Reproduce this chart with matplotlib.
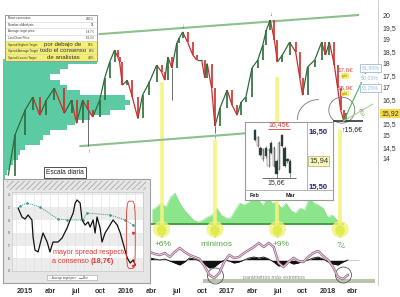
import numpy as np
import pandas as pd
import matplotlib
matplotlib.use('Agg')
import matplotlib.pyplot as plt
import matplotlib.dates as mdates
from matplotlib.patches import Rectangle, FancyBboxPatch, Ellipse, Arc
from matplotlib.collections import LineCollection

plt.rcParams['font.family'] = ['Liberation Sans', 'DejaVu Sans']
plt.rcParams['hatch.linewidth'] = 0.6

# ---------------- data ----------------
price_dates = ['2014-11-01', '2014-11-25', '2015-01-01', '2015-01-29', '2015-02-23', '2015-03-19',
               '2015-04-17', '2015-05-23', '2015-06-18', '2015-07-06', '2015-07-28', '2015-08-18',
               '2015-09-03', '2015-09-28', '2015-10-16', '2015-11-03', '2015-11-21', '2015-12-02',
               '2015-12-09', '2015-12-19', '2016-01-06', '2016-01-24', '2016-02-13', '2016-03-01',
               '2016-03-26', '2016-04-21', '2016-05-09', '2016-05-20', '2016-06-01', '2016-06-15',
               '2016-07-03', '2016-07-12', '2016-07-24', '2016-08-11', '2016-08-30', '2016-09-13',
               '2016-10-01', '2016-10-12', '2016-10-21', '2016-11-06', '2016-11-18', '2016-12-06',
               '2017-01-01', '2017-01-19', '2017-02-06', '2017-02-21', '2017-03-10', '2017-04-01',
               '2017-04-22', '2017-05-10', '2017-05-23', '2017-06-06', '2017-06-21', '2017-07-02',
               '2017-07-20', '2017-08-15', '2017-09-06', '2017-09-21', '2017-10-01', '2017-10-19',
               '2017-11-14', '2017-12-09', '2017-12-23', '2018-01-06', '2018-01-24', '2018-02-05',
               '2018-02-16', '2018-02-27', '2018-03-09']
closes = [13.3, 15.0, 16.05, 16.6, 15.84, 16.47, 16.97, 15.92, 16.47, 15.5, 16.47, 16.05,
          15.76, 16.47, 17.4, 18.07, 18.57, 18.28, 18.07, 17.1, 17.3, 16.6, 15.7, 16.68,
          17.23, 17.94, 17.65, 17.31, 18.28, 17.82, 18.87, 19.08, 19.33, 18.9, 18.36, 18.15,
          18.15, 17.4, 18.0, 16.97, 15.38, 16.13, 16.89, 16.26, 15.84, 16.39, 16.6, 17.82,
          18.15, 18.78, 19.41, 19.83, 18.99, 18.07, 18.36, 18.9, 18.49, 17.4, 16.68, 17.86,
          18.15, 18.9, 18.36, 18.9, 17.94, 16.97, 16.05, 15.6, 15.92]
spike_dates = ['2015-08-18', '2016-06-15', '2016-11-18']
spike_lows = [14.55, 16.47, 15.1]
last_price = 15.92

upper_channel = (['2015-09-28', '2018-04-20'], [19.24, 20.04])
lower_channel = (['2015-07-20', '2017-03-12'], [14.54, 15.08])

profile_levels = [18.07, 17.86, 17.65, 17.44, 17.23, 17.02, 16.81, 16.60, 16.39, 16.18, 15.97, 15.76,
                  15.55, 15.34, 15.13, 14.92, 14.71, 14.50, 14.29, 14.08, 13.87, 13.66, 13.45, 13.24]
profile_volume = [94, 65, 57, 47, 57, 64, 77, 122, 127, 122, 107, 87, 72, 64, 47, 40, 37, 22, 17, 15,
                  10, 7, 4, 2]

band_dates = ['2016-05-09', '2016-11-18', '2017-07-02', '2018-02-14']
band_tops = [17.23, 14.8, 17.44, 15.2]
band_labels = ['+6%', 'mínimos', '+9%', '?¿']

volume = [14, 17, 21, 17, 27, 31, 21, 14, 9, 4, 2, 4, 7, 9, 16, 9, 6, 6, 14, 21, 19, 22, 27, 24,
          19, 27, 21, 22, 16, 21, 14, 11, 16, 14, 26, 21, 19, 16, 7, 9, 4, 2]
osc_mauve = [8, 6, 5, 7, 3, 8, 12, 8, 5, 3, 1, -6, -15, -18, -13, -2, 5, 2, 3, 7, 10, 13, 17, 13,
             17, 13, -3, -7, -2, 2, -1, -2, 3, 7, 9, 4, 0, -7, -17, -19, -15]
osc_black = [2, 1, 0, 1, -1, -3, -5, -2, 2, 1, -1, -4, -8, -7, -3, 0, -1, -3, -2, 0, 2, 3, 2, 3,
             1, -2, -6, -5, -2, -4, -3, -1, 0, 2, 3, 1, -2, -4, -5, -2, 0]

# consensus inset (left)
cons_dates = ['2014-12-07', '2014-12-21', '2015-01-01', '2015-01-12', '2015-01-26', '2015-01-30',
              '2015-02-06', '2015-02-17', '2015-03-03', '2015-03-07', '2015-03-22', '2015-04-01',
              '2015-04-12', '2015-04-30', '2015-05-15', '2015-06-02', '2015-06-13', '2015-06-24',
              '2015-07-01', '2015-07-08', '2015-07-19', '2015-07-26', '2015-08-06', '2015-08-17',
              '2015-08-24', '2015-09-04', '2015-09-11', '2015-09-18', '2015-09-29', '2015-10-06',
              '2015-10-17', '2015-11-04', '2015-11-15', '2015-11-30', '2015-12-11', '2015-12-21',
              '2016-01-05', '2016-01-16', '2016-01-27', '2016-02-03']
cons_price = [19.96, 19.25, 19.09, 19.41, 19.02, 17.68, 16.65, 16.5, 17.68, 17.99, 17.28, 16.5,
              17.28, 17.28, 17.6, 18.39, 19.02, 19.57, 20.35, 20.59, 20.35, 19.02, 18.62, 18.86,
              18.46, 19.02, 17.99, 19.25, 18.39, 17.28, 17.99, 18.62, 19.02, 18.62, 17.99, 17.2,
              16.02, 15.63, 15.87, 15.47]
target_dates = ['2014-12-14', '2015-01-08', '2015-02-24', '2015-04-30', '2015-06-02', '2015-07-30',
                '2015-08-13', '2015-11-04', '2015-12-29', '2016-01-27']
target_price = [20.12, 20.35, 20.04, 19.09, 19.02, 19.02, 19.57, 19.41, 19.02, 18.62]

# recent candles inset (right)
mini_open = [16.54, 16.24, 16.21, 16.0, 16.21, 15.88, 16.30, 15.88, 15.97, 15.82, 16.45, 16.21, 16.0, 15.97]
mini_close = [16.35, 16.41, 16.09, 16.18, 16.06, 16.18, 16.12, 16.21, 15.73, 16.30, 16.24, 15.88, 15.97, 15.76]
mini_high = [16.56, 16.43, 16.24, 16.2, 16.24, 16.2, 16.33, 16.24, 16.0, 16.33, 16.47, 16.24, 16.03, 16.0]
mini_low = [16.33, 16.22, 16.06, 15.98, 16.03, 15.86, 16.1, 15.86, 15.66, 15.8, 16.22, 15.86, 15.94, 15.69]

table_labels = ['Mean consensus', 'Number of Analysts', 'Average target price', 'Last Close Price',
                'Spread Highest Target', 'Spread Average Target', 'Spread Lowest Target']
table_values = ['4/15,5', '23', '18,7 €', '16,3 €', '39%', '19%', '4,9%']

quarters = pd.date_range('2015-01-01', '2018-04-01', freq='QS')
quarter_labels = [str(d.year) if d.month == 1 else {4: 'abr', 7: 'jul', 10: 'oct'}[d.month] for d in quarters]
price_ticks = [14, 14.5, 15, 15.5, 16.5, 17, 17.5, 18, 18.5, 19, 19.5, 20]

# ---------------- layout helpers ----------------
W, H = 400, 297
fig = plt.figure(figsize=(4.0, 2.97), dpi=100)


def box(x0, y0, x1, y1):
    return [x0 / W, 1 - y1 / H, (x1 - x0) / W, (y1 - y0) / H]


def fxy(x, y):
    return x / W, 1 - y / H


d = lambda s: mdates.date2num(pd.Timestamp(s))
dn = lambda lst: np.array([d(s) for s in lst])

GREEN_TXT = '#57a845'
xlim = (d('2014-10-13'), d('2018-07-01'))

# ---------------- volume profile (behind) ----------------
ax_vp = fig.add_axes(box(3, 0, 378, 285), zorder=1)
ax_vp.barh(profile_levels, profile_volume, height=0.21, color='#5ccaa2', lw=0)
ax_vp.set_xlim(0, 375)
ax_vp.set_ylim(8.712, 20.671)
ax_vp.set_axis_off()

# ---------------- volume / indicator panel ----------------
ax_vol = fig.add_axes(box(3, 185, 378, 235), zorder=2)
vol_dates = pd.date_range('2016-04-04', '2018-02-19', periods=len(volume))
vx = mdates.date2num(vol_dates)
ax_vol.fill_between(vx, 0, volume, color='#8be68b', lw=0)
ax_vol.plot(vx, volume, color='#6fd66f', lw=0.3)
ax_vol.hlines(0, vx[0] - 10, vx[-1] + 8, color='#3d9b3d', lw=1.3)
ax_vol.set_xlim(*xlim)
ax_vol.set_ylim(-11, 39)
ax_vol.set_axis_off()
ax_vol.patch.set_alpha(0)

# ---------------- main price axes ----------------
ax = fig.add_axes(box(3, 0, 378, 285), zorder=3)
ax.patch.set_alpha(0)
ax.set_xlim(*xlim)
ax.set_ylim(8.712, 20.671)

px = dn(price_dates)
pc = np.array(closes)
segs = [[(px[i - 1], pc[i - 1]), (px[i], pc[i])] for i in range(1, len(pc))]
cols = ['#2e6b3a' if pc[i] >= pc[i - 1] else '#c9302c' for i in range(1, len(pc))]
ax.add_collection(LineCollection(segs, colors=cols, lw=0.9, zorder=5))
ax.vlines(px[1:], pc[:-1], pc[1:], colors=cols, lw=1.2, zorder=5)
ax.vlines(dn(spike_dates), [pc[price_dates.index(s)] for s in spike_dates], spike_lows,
          colors='#555555', lw=0.6, zorder=5)

ax.plot(dn(upper_channel[0]), upper_channel[1], color='#8cc08f', lw=1.5, zorder=4)
ax.plot(dn(lower_channel[0]), lower_channel[1], color='#8cc08f', lw=1.5, zorder=4)

for s, y, m in [('2016-07-24', 19.55, '↓'), ('2017-06-06', 20.05, '↓'),
                ('2015-08-18', 14.3, '↑'), ('2016-11-18', 14.85, '↑')]:
    ax.text(d(s), y, m, fontsize=4, ha='center', va='center', color='#444444', zorder=6)

# yellow bands with glow and arcs
BAND_FLOOR = 11.1
for s, top, lab in zip(band_dates, band_tops, band_labels):
    x = d(s)
    ax.vlines(x, BAND_FLOOR, top, color='#f4f47c', lw=2.6, alpha=0.9, zorder=3)
    ax.add_patch(Ellipse((x, BAND_FLOOR - 0.05), 62, 0.7, color='#f2f27a', alpha=0.8, lw=0, zorder=3))
    ax.add_patch(Ellipse((x, BAND_FLOOR - 0.1), 34, 0.45, color='#d8ec3c', alpha=0.8, lw=0, zorder=3))
    ax.add_patch(Arc((x, BAND_FLOOR + 0.05), 80, 0.85, theta1=200, theta2=350,
                     color='#888888', lw=0.5, zorder=4))
    ax.text(x + (12 if lab == '+9%' else 6), BAND_FLOOR - 0.55, lab, fontsize=6, ha='center', va='top',
            color=GREEN_TXT, zorder=6)

# end-of-chart annotations
low_date, low_val = '2018-02-27', 15.6
ax.add_patch(Ellipse((d('2018-02-20'), 16.05), 94, 1.09, fill=False, ec='#777777', lw=0.6, zorder=6))
ax.add_patch(Arc((d('2017-11-26'), 15.64), 150, 1.7, theta1=15, theta2=180, color='#777777', lw=0.6, zorder=6))
ax.hlines(low_val, d('2018-01-19'), d('2018-05-06'), color='#333333', lw=1.2, zorder=6)
ax.text(d('2018-03-29'), low_val - 0.2, '↑15,6€', fontsize=5, ha='center', va='top', color='#222222', zorder=7)
ax.plot([d(low_date), d('2018-05-26')], [low_val, 17.82], color='#4db848', lw=0.8, zorder=6)
ax.plot([d(low_date), d('2018-06-12')], [low_val, 16.3], color='#9fd69a', lw=0.8, zorder=6)
ax.text(d('2018-04-28'), 15.95, '?', fontsize=5, color='#d9534f', ha='center', va='center', zorder=7)
ax.text(d('2018-05-08'), 15.95, '¿', fontsize=5, color='#4db848', ha='center', va='center', zorder=7)
for y, lab in [(17.73, '17,6€'), (16.98, '15,9€')]:
    ax.text(d('2018-03-04'), y, lab, fontsize=4.5, color='#d43f3a', ha='center', va='center', zorder=7)
    ax.text(d('2018-03-04'), y - 0.24, 'gold', fontsize=2.2, color='#8a7a00', ha='center', va='center', zorder=7,
            bbox=dict(boxstyle='square,pad=0.25', fc='#f6ef6a', ec='none'))
for y, lab, framed in [(17.82, '61,80%', True), (17.4, '50,00%', False), (16.98, '38,20%', True)]:
    ax.text(d('2018-06-03'), y, lab, fontsize=3.8, color='#9db9dc', ha='center', va='center', zorder=7,
            bbox=dict(boxstyle='square,pad=0.25', fc='white', ec='#9db9dc' if framed else 'none', lw=0.6))

# axes styling
ax.set_xticks(mdates.date2num(quarters))
ax.set_xticklabels(quarter_labels)
ax.tick_params(axis='x', length=0, labelsize=5.2, pad=2, colors='#333333')
for t in ax.get_xticklabels():
    t.set_fontweight('bold')
ax.yaxis.tick_right()
ax.set_yticks(price_ticks)
ax.set_yticklabels([('%g' % v).replace('.', ',') for v in price_ticks])
ax.tick_params(axis='y', length=0, labelsize=5, pad=3, colors='#333333')
for sp in ['top', 'left', 'bottom']:
    ax.spines[sp].set_visible(False)
ax.spines['right'].set_color('#c8c8c8')
ax.spines['right'].set_linewidth(0.6)
ax.text(1.008, (last_price - 8.712) / (20.671 - 8.712), ('%.2f' % last_price).replace('.', ','),
        transform=ax.transAxes, fontsize=5, ha='left', va='center', color='#333333',
        bbox=dict(boxstyle='square,pad=0.15', fc='#f5d94a', ec='none'), zorder=8, clip_on=False)

# ---------------- oscillator ----------------
ax_osc = fig.add_axes(box(3, 240, 378, 285), zorder=3)
ax_osc.patch.set_alpha(0)
ox = mdates.date2num(pd.date_range('2016-03-28', '2018-03-14', periods=len(osc_mauve)))
ax_osc.fill_between([d('2016-10-05'), d('2018-06-20')], -23, -19, color='#b9c4ad', lw=0)
ax_osc.hlines(0, ox[0], d('2018-04-25'), color='#cccccc', lw=0.7)
ax_osc.fill_between(ox, 0, osc_black, color='#111111', lw=0)
ax_osc.plot(ox, osc_black, color='#111111', lw=0.6)
ax_osc.plot(ox, osc_mauve, color='#9c6a8a', lw=1.8)
ax_osc.plot(ox, osc_mauve, color='#f2dbe8', lw=0.6)
ax_osc.text(d('2017-06-20'), -17.5, 'parámetros más extremos', fontsize=3.8, color='#888888',
            ha='center', va='center')
for s, v in [('2016-11-20', -16), ('2018-02-26', -15)]:
    ax_osc.add_patch(Ellipse((d(s), v), 58, 16, fill=False, ec='#555555', lw=0.6))
ax_osc.set_xlim(*xlim)
ax_osc.set_ylim(-25, 20)
ax_osc.set_axis_off()

# ---------------- table (top-left) ----------------
tb = fig.add_axes(box(5, 15, 97, 61), zorder=6)
tb.set_xlim(0, 1)
tb.set_ylim(7, 0)
tb.set_xticks([])
tb.set_yticks([])
for sp in tb.spines.values():
    sp.set_color('#9a9a9a')
    sp.set_linewidth(0.7)
for i, (lab, val) in enumerate(zip(table_labels, table_values)):
    if i >= 4:
        tb.add_patch(Rectangle((0, i), 1, 1, fc='#f4ee72', ec='none'))
    tb.axhline(i, color='#d0d0d0', lw=0.4)
    tb.text(0.03, i + 0.5, lab, fontsize=2.1, va='center', ha='left', color='#333333')
    tb.text(0.97, i + 0.5, val, fontsize=2.1, va='center', ha='right', color='#333333')
for j, line in enumerate(['por debajo de', 'todo el consenso', 'de analistas']):
    tb.text(0.63, 4.45 + j, line, fontsize=4.4, ha='center', va='center', color='#333333')

# ---------------- consensus inset (bottom-left) ----------------
outer = fig.add_axes(box(3, 179, 150, 283), zorder=6)
outer.set_facecolor('#e6e6e6')
outer.set_xlim(0, 1)
outer.set_ylim(0, 1)
outer.set_xticks([])
outer.set_yticks([])
for sp in outer.spines.values():
    sp.set_color('#a0a0a0')
    sp.set_linewidth(0.8)
outer.add_patch(Rectangle((0.03, 0.89), 0.94, 0.09, fc='#e6e6e6', ec='#a8a8a8', hatch='//////', lw=0))
leg = Rectangle((0.3, 0.025), 0.34, 0.055, fc='white', ec='#a0a0a0', lw=0.4)
outer.add_patch(leg)
outer.plot([0.315, 0.33], [0.052, 0.052], color='#3b9c8a', lw=0.4, ls=':')
outer.text(0.335, 0.052, 'Average target price', fontsize=1.9, va='center', color='#444444')
outer.plot([0.52, 0.535], [0.052, 0.052], color='#222222', lw=0.4)
outer.text(0.54, 0.052, 'Price', fontsize=1.9, va='center', color='#444444')

inner = fig.add_axes(box(12, 192, 143, 271), zorder=7)
inner.set_facecolor('white')
inner.set_ylim(15, 21.22)
inner.set_xlim(d('2014-11-15'), d('2016-03-02'))
for k in range(15, 22, 2):
    inner.axhspan(k, k + 1, color='#ececec', lw=0, zorder=0)
for m in pd.date_range('2014-12-01', '2016-03-01', freq='MS'):
    inner.axvline(mdates.date2num(m), color='#e0e0e0', lw=0.4, zorder=0)
inner.plot(dn(target_dates), target_price, color='#3b9c8a', lw=0.6, ls=(0, (1.5, 1)),
           marker='o', ms=0.9, zorder=2)
inner.plot(dn(cons_dates), cons_price, color='#111111', lw=0.9, zorder=3)
inner.set_yticks(range(15, 22))
inner.set_yticklabels([str(k) for k in range(15, 22)])
inner.tick_params(axis='y', labelsize=2, length=0, pad=1, colors='#666666')
inner.set_xticks([])
for sp in inner.spines.values():
    sp.set_color('#c0c0c0')
    sp.set_linewidth(0.4)
inner.add_patch(FancyBboxPatch((d('2016-01-02'), 15.2), 32, 5.3, boxstyle='round,pad=0,rounding_size=10',
                               mutation_aspect=0.15, fill=False, ec='#e23a33', lw=0.6, zorder=4))
inner.plot([d('2016-01-27')], [18.0], marker='v', ms=1.5, color='#e23a33', zorder=4)
inner.plot([d('2016-01-27')], [15.4], marker='v', ms=1.5, color='#e23a33', zorder=4)
inner.text(d('2015-08-25'), 16.45, 'mayor spread respecto', fontsize=5.2, color='#e23a33',
           ha='center', va='center', zorder=5)
inner.text(d('2015-08-25'), 15.72, 'a consenso ', fontsize=5.2, color='#e23a33',
           ha='right', va='center', zorder=5)
inner.text(d('2015-08-25'), 15.72, '(18,7€)', fontsize=5.2, color='#e23a33', fontweight='bold',
           ha='left', va='center', zorder=5)

fig.text(*fxy(65, 172), 'Escala diaria', fontsize=4.8, ha='center', va='center', color='#222222',
         zorder=9, bbox=dict(boxstyle='square,pad=0.3', fc='white', ec='#333333', lw=0.6))

# ---------------- recent candles inset (right) ----------------
frame = fig.add_axes(box(245, 122, 333, 200), zorder=6)
frame.set_facecolor('white')
frame.set_xlim(245, 333)
frame.set_ylim(200, 122)
frame.set_xticks([])
frame.set_yticks([])
for sp in frame.spines.values():
    sp.set_color('#999999')
    sp.set_linewidth(0.8)
frame.axvline(307, ymin=(200 - 190) / 78, color='#aaaaaa', lw=0.6)
frame.axhline(190, color='#aaaaaa', lw=0.6)
frame.text(255, 195.5, 'Feb', fontsize=4, fontweight='bold', ha='center', va='center', color='#222222')
frame.text(291, 195.5, 'Mar', fontsize=4, fontweight='bold', ha='center', va='center', color='#222222')

mini = fig.add_axes(box(247, 124, 307, 190), zorder=7)
mini.patch.set_alpha(0)
mini.set_xlim(-3, 19.3)
mini.set_ylim(15.445, 16.645)
mini.set_axis_off()
for i, (o, c, hi, lo) in enumerate(zip(mini_open, mini_close, mini_high, mini_low)):
    mini.vlines(i, lo, hi, color='#333333', lw=0.4)
    up = c >= o
    mini.add_patch(Rectangle((i - 0.45, min(o, c)), 0.9, abs(c - o),
                             fc='#f0f0f0' if up else '#1e3d36', ec='#555555', lw=0.3))
mini.hlines(16.56, 4.8, 13, color='#d43f3a', lw=0.6)
mini.text(8.9, 16.575, '16,45€', fontsize=5, color='#d43f3a', ha='center', va='bottom')
mini.hlines(15.66, 2.6, 15.2, color='#555555', lw=0.6)
mini.text(8.0, 15.64, '15,6€', fontsize=5, color='#333333', ha='center', va='top')

NAVY = '#1f2a6e'
frame.text(309, 132, '16,50', fontsize=5.5, fontweight='bold', color=NAVY, ha='left', va='center')
frame.text(309, 187, '15,50', fontsize=5.5, fontweight='bold', color=NAVY, ha='left', va='center')
frame.text(309, 161, '15,94', fontsize=5.5, color='#333333', ha='left', va='center',
           bbox=dict(boxstyle='square,pad=0.15', fc='#fbf7b8', ec='#9a9a60', lw=0.4))

fig.savefig('out.png', dpi=100)
